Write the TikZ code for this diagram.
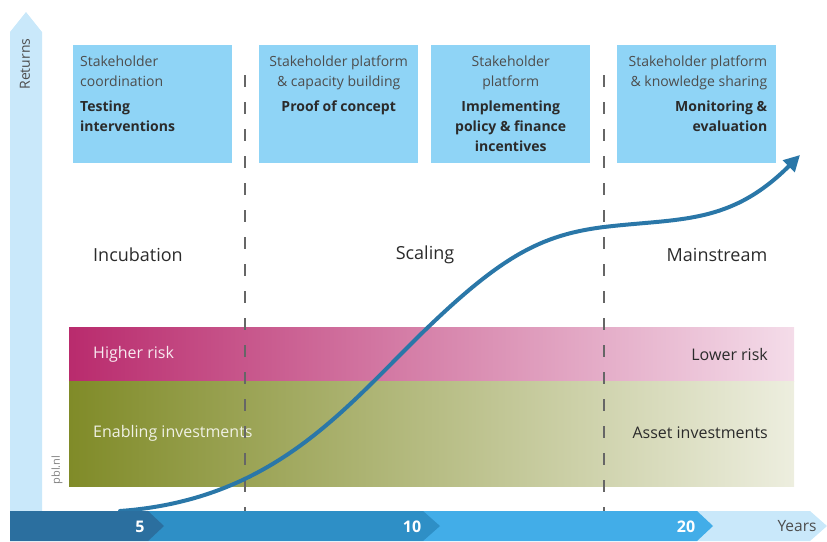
\documentclass[tikz,border=0pt]{standalone}
\usepackage{fontspec}
\setmainfont{Open Sans}
\usetikzlibrary{arrows.meta,positioning}
\definecolor{boxblue}{HTML}{8FD4F6}
\definecolor{paleblue}{HTML}{C9E8FA}
\definecolor{segA}{HTML}{2B6F9F}
\definecolor{segB}{HTML}{2E8FC6}
\definecolor{segC}{HTML}{42ADE8}
\definecolor{curveblue}{HTML}{2A77A8}
\definecolor{pinkL}{HTML}{B92B6D}
\definecolor{pinkM}{HTML}{CC6C9C}
\definecolor{pinkR}{HTML}{F4DCE9}
\definecolor{greenL}{HTML}{808B28}
\definecolor{greenM}{HTML}{A8AE66}
\definecolor{greenR}{HTML}{EDEEDF}
\definecolor{textgray}{HTML}{4D4D4D}
\definecolor{darktext}{HTML}{2B2B2B}
\begin{document}
\begin{tikzpicture}[x=1pt, y=-1pt, line join=round, line cap=round,
  phasebox/.style={fill=boxblue, minimum width=159pt, minimum height=118pt, anchor=north west, inner sep=0pt},
  boxtext/.style={font=\fontsize{14}{20}\selectfont, text=textgray, inner sep=0pt},
  stage/.style={font=\fontsize{18}{20}\selectfont, text=darktext},
  bandtext/.style={font=\fontsize{16}{18}\selectfont, inner sep=0pt},
  yearnum/.style={font=\bfseries\fontsize{16}{18}\selectfont, text=white},
  divider/.style={draw=gray!80!black, line width=1.4pt, line cap=butt, dash pattern=on 12pt off 15pt}]
\useasboundingbox (0,0) rectangle (827,541);
\fill[paleblue] (10,515) -- (10,32) -- (26,12) -- (42,32) -- (42,515) -- cycle;
\node[rotate=90, font=\fontsize{14}{16}\selectfont, text=textgray] (returns) at (25,64) {Returns};

\node[phasebox] (box1) at (73,45) {};
\node[phasebox] (box2) at (259,45) {};
\node[phasebox] (box3) at (431,45) {};
\node[phasebox] (box4) at (617,45) {};
\node[boxtext, align=left, below right=11pt and 7pt of box1.north west] (txt1)
  {Stakeholder\\coordination\\[5pt]\textcolor{darktext}{\bfseries Testing}\\\textcolor{darktext}{\bfseries interventions}};
\node[boxtext, align=center, below=11pt of box2.north] (txt2)
  {Stakeholder platform\\\& capacity building\\[5pt]\textcolor{darktext}{\bfseries Proof of concept}};
\node[boxtext, align=center, below=11pt of box3.north] (txt3)
  {Stakeholder\\platform\\[5pt]\textcolor{darktext}{\bfseries Implementing}\\\textcolor{darktext}{\bfseries policy \& finance}\\\textcolor{darktext}{\bfseries incentives}};
\node[boxtext, align=right, below left=11pt and 9pt of box4.north east] (txt4)
  {Stakeholder platform\\\& knowledge sharing\\[5pt]\textcolor{darktext}{\bfseries Monitoring \&}\\\textcolor{darktext}{\bfseries evaluation}};

\node[stage] (incubation) at (138,255) {Incubation};
\node[stage] (scaling) at (425,255) {Scaling};
\node[stage] (mainstream) at (717,255) {Mainstream};

\shade[left color=pinkL, middle color=pinkM, right color=pinkR] (69,327) rectangle (794,381);
\shade[left color=greenL, middle color=greenM, right color=greenR] (69,381) rectangle (794,486);
\node[bandtext, text=white!90!pinkL, anchor=west] (higher) at (93,354) {Higher risk};
\node[bandtext, text=darktext, anchor=east] (lower) at (768,354) {Lower risk};
\node[bandtext, text=white!88!greenL, anchor=west] (enabling) at (93,433) {Enabling investments};
\node[bandtext, text=darktext, anchor=east] (asset) at (768,433) {Asset investments};
\node[rotate=90, font=\fontsize{11}{12}\selectfont, text=gray] (pbl) at (57,470) {pbl.nl};

\draw[divider] (245,75) -- (245,511);
\draw[divider] (604,75) -- (604,511);

\draw[curveblue, line width=4pt, -{Triangle[length=16pt,width=16pt]}] (120,511) .. controls (270,500) and (340,414) .. (420,335)
  .. controls (500,257) and (540,235) .. (604,227) .. controls (680,218) and (730,225) .. (800,155);

\fill[paleblue] (697,511) -- (810,511) -- (827,526) -- (810,541) -- (697,541) -- cycle;
\fill[segC] (423,511) -- (697,511) -- (713,526) -- (697,541) -- (423,541) -- cycle;
\fill[segB] (148,511) -- (423,511) -- (440,526) -- (423,541) -- (148,541) -- cycle;
\fill[segA] (10,511) -- (148,511) -- (164,526) -- (148,541) -- (10,541) -- cycle;
\node[yearnum] (y5) at (140,527) {5};
\node[yearnum] (y10) at (412,527) {10};
\node[yearnum] (y20) at (686,527) {20};
\node[font=\fontsize{15.5}{18}\selectfont, text=textgray] (years) at (797,526) {Years};
\end{tikzpicture}
\end{document}
